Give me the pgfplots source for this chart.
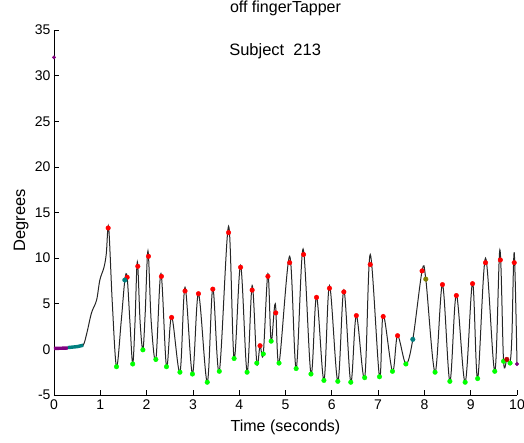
\documentclass[border=0pt]{standalone}
\usepackage{pgfplots}
\usepackage{pgfplotstable}
\pgfplotsset{compat=1.18}
\usepackage{fontspec}
\setmainfont{Liberation Sans}

\definecolor{mlpurple}{RGB}{128,0,128}
\definecolor{mlteal}{RGB}{0,128,128}
\definecolor{mlolive}{RGB}{128,128,0}
\definecolor{mlred}{RGB}{255,0,0}
\definecolor{mlgreen}{RGB}{0,255,0}

% trace of finger angle
\pgfplotstableread{
t v
0 0.1
0.3 0.15
0.5 0.3
0.63 0.45
0.71 1.8
0.81 4.0
0.92 5.4
0.99 7.6
1.08 9.0
1.13 10.5
1.18 13.4
1.26 5
1.35 -1.9
1.45 3
1.53 7.6
1.58 7.9
1.64 3
1.70 -1.6
1.75 3
1.80 9.6
1.86 3
1.92 -0.05
1.97 4
2.03 10.8
2.10 3
2.20 -1.1
2.31 8.3
2.43 -1.9
2.54 3.6
2.72 -2.5
2.83 6.8
2.99 -2.7
3.12 6.1
3.31 -3.6
3.43 6.7
3.57 -2.4
3.77 13.5
3.89 -1.0
4.03 9.2
4.17 -2.5
4.28 7.0
4.38 -1.5
4.45 0.4
4.52 -0.5
4.62 8.3
4.69 0.9
4.78 5.0
4.86 -1.5
5.09 10.2
5.23 -2.1
5.38 11.0
5.55 -2.7
5.67 5.8
5.83 -3.4
5.95 7.0
6.13 -3.5
6.26 6.5
6.41 -3.6
6.53 3.7
6.71 -3.1
6.83 10.4
7.03 -3.0
7.11 3.8
7.31 -2.4
7.42 1.5
7.60 -1.6
7.75 1.1
7.95 8.6
8.03 7.7
8.23 -2.5
8.39 7.1
8.55 -3.5
8.69 6.0
8.88 -3.6
9.04 7.3
9.15 -3.2
9.32 10.0
9.52 -2.4
9.63 10.9
9.71 -1.3
9.78 -1.1
9.85 -1.4
9.89 1.5
9.94 10.6
10.0 -1.6
}\trace

% peaks
\pgfplotstableread{
t v
1.17 13.3
1.58 7.9
1.81 9.1
2.04 10.2
2.32 8.0
2.54 3.5
2.83 6.4
3.12 6.1
3.43 6.6
3.77 12.8
4.03 9.0
4.28 6.5
4.45 0.4
4.62 8.0
4.79 4.0
5.09 9.5
5.39 10.4
5.67 5.7
5.95 6.7
6.26 6.3
6.53 3.7
6.83 9.3
7.11 3.6
7.42 1.5
7.95 8.6
8.39 7.1
8.69 5.9
9.04 7.2
9.32 9.5
9.64 9.8
9.94 9.5
}\peaks

% troughs
\pgfplotstableread{
t v
1.35 -1.9
1.70 -1.6
1.92 -0.05
2.20 -1.1
2.43 -1.9
2.72 -2.5
2.99 -2.7
3.31 -3.6
3.57 -2.4
3.89 -1.0
4.17 -2.5
4.38 -1.5
4.52 -0.5
4.69 0.9
4.86 -1.5
5.23 -2.1
5.55 -2.7
5.83 -3.4
6.13 -3.5
6.41 -3.6
6.71 -3.1
7.03 -3.0
7.31 -2.4
7.60 -1.6
8.23 -2.5
8.55 -3.5
8.88 -3.6
9.15 -3.2
9.52 -2.4
9.71 -1.3
9.85 -1.5
}\troughs

\begin{document}
\begin{tikzpicture}
\begin{axis}[
    scale only axis,
    width=463pt, height=365pt,
    xmin=0, xmax=10, ymin=-5, ymax=35,
    axis x line*=bottom, axis y line*=left,
    xtick={0,1,...,10}, ytick={-5,0,5,10,15,20,25,30,35},
    tick align=inside, major tick length=5pt,
    axis line style={black, line width=0.7pt},
    tick style={black, line width=0.7pt},
    /pgf/number format/assume math mode=true,
    tick label style={font=\fontsize{14}{16}\selectfont},
    xticklabel style={yshift=-1pt},
    title={off fingerTapper},
    title style={at={(axis description cs:0.5,1)}, anchor=base, yshift=12pt, font=\fontsize{16}{18}\selectfont},
    xlabel={Time (seconds)},
    xlabel style={at={(axis description cs:0.5,-0.101)}, anchor=base, font=\fontsize{16}{18}\selectfont},
    ylabel={Degrees},
    ylabel style={at={(axis description cs:-0.0626,0.479)}, anchor=base, font=\fontsize{16.5}{18}\selectfont},
    clip=false,
]
\addplot[black!85, line width=1pt, smooth, tension=0.55] table[x=t, y=v] {\trace};
% start of the trace, coloured segments
\addplot[mlpurple, line width=3.4pt] coordinates {(0,0.1) (0.3,0.15)};
\addplot[mlteal, line width=3.4pt] coordinates {(0.3,0.2) (0.5,0.3) (0.63,0.45)};
\addplot[only marks, mark=*, mark size=2.3pt, mlred] table[x=t, y=v] {\peaks};
\addplot[only marks, mark=*, mark size=2.3pt, mlgreen] table[x=t, y=v] {\troughs};
\addplot[only marks, mark=*, mark size=2.3pt, mlteal] coordinates {(1.53,7.6) (7.75,1.1)};
\addplot[only marks, mark=*, mark size=2.3pt, mlolive] coordinates {(8.03,7.7)};
\addplot[only marks, mark=*, mark size=2.3pt, red!75!black] coordinates {(9.78,-1.1)};
\addplot[only marks, mark=*, mark size=1.8pt, mlpurple] coordinates {(0,32) (10,-1.6)};
\node[anchor=base west, font=\fontsize{16.5}{18}\selectfont] at (axis cs:3.71,32.26) {Subject\ \ 213};
\end{axis}
\pgfresetboundingbox
\path[use as bounding box] ([shift={(-54pt,-47pt)}]current axis.south west) rectangle ([shift={(7pt,30pt)}]current axis.north east);
\end{tikzpicture}
\end{document}
